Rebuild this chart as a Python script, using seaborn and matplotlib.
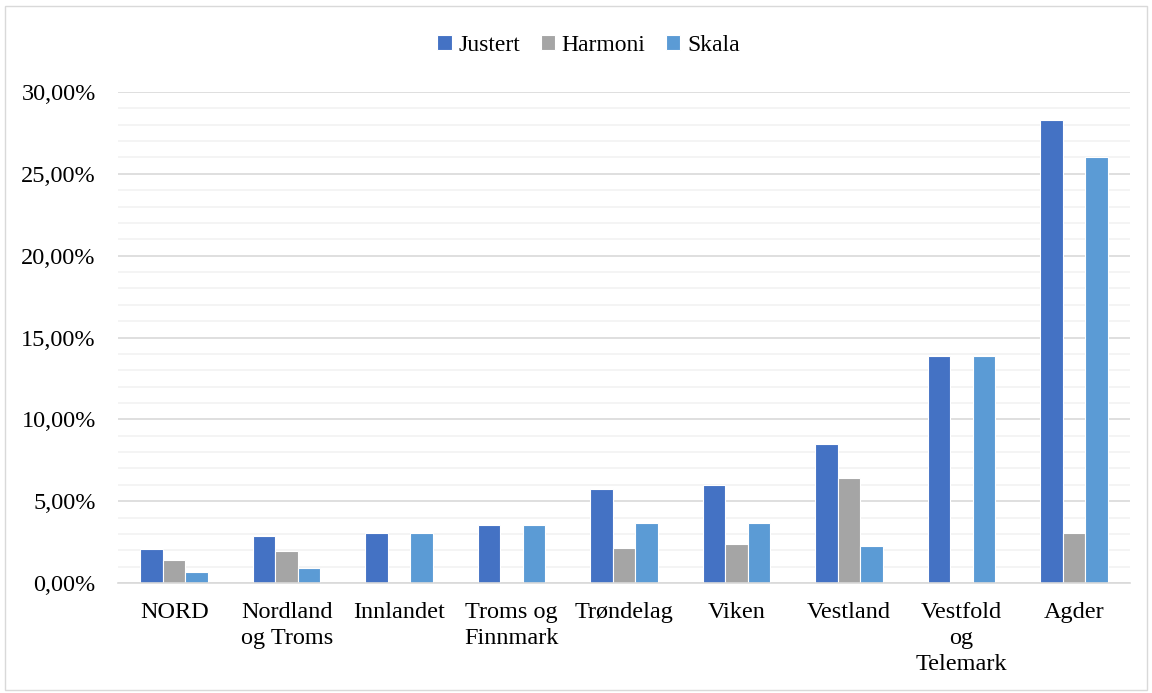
import seaborn as sns
import pandas as pd
import matplotlib.pyplot as plt
from matplotlib.ticker import FuncFormatter, MultipleLocator
from matplotlib.patches import Rectangle

regions = ["NORD", "Nordland\nog Troms", "Innlandet", "Troms og\nFinnmark",
           "Trøndelag", "Viken", "Vestland", "Vestfold\nog\nTelemark", "Agder"]
justert = [2.07, 2.88, 3.07, 3.55, 5.77, 5.97, 8.51, 13.90, 28.27]
harmoni = [1.40, 1.94, 0.0, 0.0, 2.15, 2.39, 6.40, 0.0, 3.04]
skala = [0.68, 0.93, 3.07, 3.55, 3.69, 3.65, 2.27, 13.90, 26.02]
series = ["Justert", "Harmoni", "Skala"]
colors = ["#4472C4", "#A5A5A5", "#5B9BD5"]


def main():
    df = pd.DataFrame({"region": regions, "Justert": justert,
                       "Harmoni": harmoni, "Skala": skala})
    long = df.melt(id_vars="region", var_name="serie", value_name="andel")

    sns.set_theme(style="white")
    plt.rcParams["font.family"] = ["Liberation Serif", "DejaVu Serif"]
    plt.rcParams["text.color"] = "black"

    fig = plt.figure(figsize=(11.52, 6.93), dpi=100)
    ax = fig.add_axes([0.1024, 0.1587, 0.8785, 0.7085])

    sns.barplot(data=long, x="region", y="andel", hue="serie",
                hue_order=series, palette=colors, width=0.6, gap=0,
                edgecolor="white", linewidth=0.8, saturation=1,
                errorbar=None, ax=ax)

    ax.set_ylim(0, 30)
    ax.set_xlim(-0.5, len(regions) - 0.5)
    ax.yaxis.set_major_locator(MultipleLocator(5))
    ax.yaxis.set_minor_locator(MultipleLocator(1))
    ax.yaxis.set_major_formatter(
        FuncFormatter(lambda v, _: f"{v:.2f}".replace(".", ",") + "%"))
    ax.grid(axis="y", which="major", color="#D9D9D9", linewidth=1.2)
    ax.grid(axis="y", which="minor", color="#F2F2F2", linewidth=1.2)
    ax.set_axisbelow(True)
    for s in ["left", "right", "top"]:
        ax.spines[s].set_visible(False)
    ax.spines["bottom"].set_color("#D9D9D9")
    ax.spines["bottom"].set_linewidth(1.2)

    ax.set_xlabel("")
    ax.set_ylabel("")
    ax.tick_params(axis="both", length=0, labelsize=17.5, colors="black")
    ax.tick_params(axis="x", pad=14)
    ax.tick_params(axis="y", pad=16)
    for lbl in ax.get_xticklabels():
        lbl.set_linespacing(1.3)
        lbl.set_horizontalalignment("center")

    leg = ax.legend(loc="center", bbox_to_anchor=(0.465, 1.095), ncol=3,
                    frameon=False, fontsize=17, handlelength=0.6,
                    handleheight=0.6, handletextpad=0.3, columnspacing=0.85)
    for t in leg.get_texts():
        t.set_color("black")

    fig.patches.append(Rectangle((0.004, 0.004), 0.992, 0.988,
                                 transform=fig.transFigure, fill=False,
                                 edgecolor="#D9D9D9", linewidth=1))
    fig.savefig("out.png", dpi=100, facecolor="white")


if __name__ == "__main__":
    main()
